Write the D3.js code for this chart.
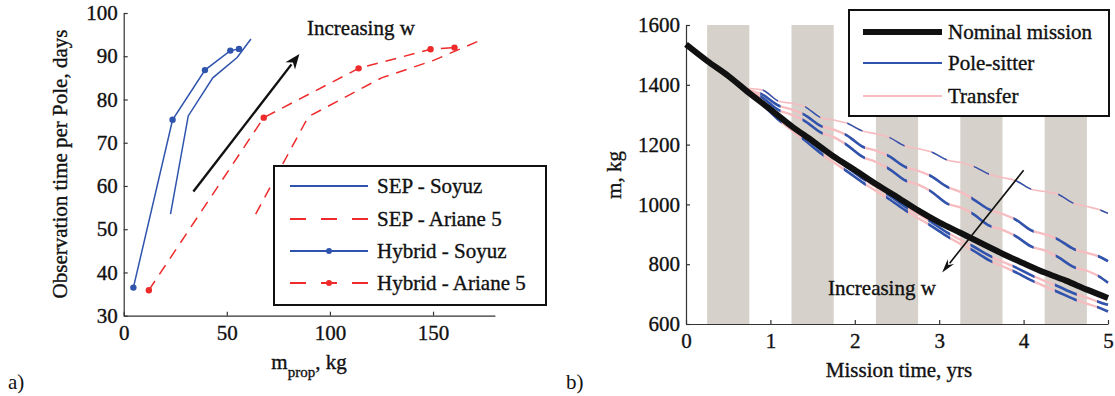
<!DOCTYPE html>
<html>
<head>
<meta charset="utf-8">
<script src="https://cdn.jsdelivr.net/npm/d3@7"></script>
<style>
  body { margin: 0; background: #fff; }
  svg { font-family: "Liberation Serif", "Times New Roman", serif; }
  svg text { stroke: #111; stroke-width: 0.35px; fill: #111; }
</style>
</head>
<body>
<svg id="fig" width="1115" height="396"></svg>
<script>
// ---- panel a) : observation time vs propellant mass
var sepSoyuzX  = [22.7, 31.3, 43.2, 55.0, 61.7];
var sepSoyuzY  = [53.5, 76.2, 85.0, 89.7, 94.0];
var hybSoyuzX  = [4.7, 23.7, 39.4, 51.7, 55.9];
var hybSoyuzY  = [36.5, 75.3, 86.8, 91.3, 91.7];
var sepArianeX = [64.0, 89.5, 125.0, 150.0, 172.0];
var sepArianeY = [53.5, 76.0, 85.0, 89.0, 93.5];
var hybArianeX = [12.2, 67.9, 113.9, 148.8, 160.4];
var hybArianeY = [35.9, 75.8, 87.2, 91.6, 92.0];
var aXTicks = [0, 50, 100, 150];
var aYTicks = [30, 40, 50, 60, 70, 80, 90, 100];

// ---- panel b) : spacecraft mass vs mission time
var nomT = [0, 0.25, 0.5, 0.75, 1, 1.25, 1.5, 1.75, 2, 2.25, 2.5, 2.75, 3, 3.25, 3.5, 3.75, 4, 4.25, 4.5, 4.75, 5];
var nomM = [1535, 1480, 1430, 1372, 1318, 1262, 1212, 1160, 1115, 1068, 1025, 980, 940, 905, 870, 835, 803, 772, 745, 715, 687];

var altT  = [0.7, 0.9, 1.1, 1.25, 1.4, 1.6, 1.75, 1.9, 2.1, 2.25, 2.4, 2.6, 2.75, 2.9, 3.1, 3.25, 3.4, 3.6, 3.75, 3.9, 4.1, 4.25, 4.4, 4.6, 4.75, 4.9, 5.0];
var alt1M = [1388, 1383, 1345, 1338, 1328, 1290, 1282, 1272, 1245, 1236, 1225, 1195, 1186, 1176, 1148, 1140, 1128, 1100, 1090, 1080, 1050, 1043, 1035, 1003, 993, 982, 970];
var alt2M = [1385, 1368, 1330, 1318, 1300, 1262, 1250, 1232, 1192, 1180, 1162, 1125, 1112, 1095, 1058, 1042, 1018, 982, 968, 950, 912, 900, 884, 850, 838, 825, 810];
var alt3M = [1383, 1358, 1315, 1300, 1280, 1240, 1225, 1200, 1158, 1142, 1120, 1080, 1066, 1044, 1002, 990, 968, 928, 915, 895, 858, 846, 825, 790, 778, 758, 738];
var alt4M = [1380, 1340, 1290, 1258, 1228, 1182, 1155, 1126, 1085, 1058, 1032, 992, 968, 942, 905, 882, 860, 828, 808, 790, 762, 744, 727, 702, 688, 673, 664];
var alt5M = [1380, 1335, 1282, 1248, 1216, 1170, 1140, 1112, 1072, 1045, 1019, 980, 954, 929, 892, 868, 846, 812, 793, 774, 745, 726, 708, 683, 668, 654, 642];
var poleCenters = [1, 1.5, 2, 2.5, 3, 3.5, 4, 4.5, 5];
var poleHalf = [0.09, 0.12, 0.12, 0.13, 0.13];
var bandStart = [0.25, 1.25, 2.25, 3.25, 4.25];
var bandEnd   = [0.75, 1.75, 2.75, 3.75, 4.75];
var bXTicks = [0, 1, 2, 3, 4, 5];
var bYTicks = [600, 800, 1000, 1200, 1400, 1600];

const blue = "#2f54ad";
const red = "#ee2a2a";
const pink = "#f6bcbf";
const FS = 21;

const svg = d3.select("#fig");

function styleAxis(g) {
  g.attr("font-family", null).attr("font-size", FS);
  g.select(".domain").attr("stroke", "#333").attr("stroke-width", 1.2);
  g.selectAll(".tick line").attr("stroke", "#333").attr("stroke-width", 1.2);
  g.selectAll(".tick text").attr("fill", "#111");
}

function arrow(g, x1, y1, x2, y2, sw, hl, hw) {
  var a = Math.atan2(y2 - y1, x2 - x1);
  var bx = x2 - hl * Math.cos(a), by = y2 - hl * Math.sin(a);
  g.append("line")
    .attr("x1", x1).attr("y1", y1).attr("x2", bx + 2 * Math.cos(a)).attr("y2", by + 2 * Math.sin(a))
    .attr("stroke", "#111").attr("stroke-width", sw);
  var px = -Math.sin(a) * hw / 2, py = Math.cos(a) * hw / 2;
  g.append("path")
    .attr("d", `M${x2},${y2}L${bx + px},${by + py}L${bx + 0.3 * hl * Math.cos(a)},${by + 0.3 * hl * Math.sin(a)}L${bx - px},${by - py}Z`)
    .attr("fill", "#111");
}

// ================= panel a =================
const xA = d3.scaleLinear().domain([0, 180]).range([123.7, 494.9]);
const yA = d3.scaleLinear().domain([30, 100]).range([315.7, 13]);
const gA = svg.append("g");

gA.append("g")
  .attr("transform", `translate(0,${yA(30)})`)
  .call(d3.axisBottom(xA).tickValues(aXTicks).tickFormat(d3.format("d")).tickSizeInner(-4).tickSizeOuter(0).tickPadding(9))
  .call(styleAxis);
gA.append("g")
  .attr("transform", `translate(${xA(0)},0)`)
  .call(d3.axisLeft(yA).tickValues(aYTicks).tickFormat(d3.format("d")).tickSizeInner(-4).tickSizeOuter(0).tickPadding(6))
  .call(styleAxis);

const lineA = d3.line().x(d => xA(d[0])).y(d => yA(d[1]));
const zip = (a, b) => a.map((v, i) => [v, b[i]]);

var seriesA = [
  { x: sepSoyuzX, y: sepSoyuzY, color: blue, dash: null, dots: false },
  { x: sepArianeX, y: sepArianeY, color: red, dash: "11,8", dots: false },
  { x: hybSoyuzX, y: hybSoyuzY, color: blue, dash: null, dots: true },
  { x: hybArianeX, y: hybArianeY, color: red, dash: "11,8", dots: true }
];
seriesA.forEach(function (s) {
  var pts = zip(s.x, s.y);
  gA.append("path").attr("d", lineA(pts))
    .attr("fill", "none").attr("stroke", s.color).attr("stroke-width", 1.5)
    .attr("stroke-dasharray", s.dash);
  if (s.dots) {
    gA.selectAll(null).data(pts).join("circle")
      .attr("cx", d => xA(d[0])).attr("cy", d => yA(d[1])).attr("r", 3.2)
      .attr("fill", s.color);
  }
});

arrow(gA, xA(33.8), yA(58.7), xA(85.2), yA(90.5), 2.4, 15, 12);
gA.append("text").attr("x", 307).attr("y", 35).attr("font-size", FS).text("Increasing w");

// legend a
const legA = gA.append("g");
legA.append("rect").attr("x", 274).attr("y", 166).attr("width", 272).attr("height", 139)
  .attr("fill", "#fff").attr("stroke", "#111").attr("stroke-width", 2);
var legAItems = ["SEP - Soyuz", "SEP - Ariane 5", "Hybrid - Soyuz", "Hybrid - Ariane 5"];
var legAY = [186, 219, 251, 283];
legAItems.forEach(function (lab, i) {
  var s = seriesA[i];
  legA.append("line").attr("x1", 290).attr("x2", 368).attr("y1", legAY[i]).attr("y2", legAY[i])
    .attr("stroke", s.color).attr("stroke-width", 1.8)
    .attr("stroke-dasharray", s.dash ? "16,15" : null);
  if (s.dots) legA.append("circle").attr("cx", 329).attr("cy", legAY[i]).attr("r", 3).attr("fill", s.color);
  legA.append("text").attr("x", 377).attr("y", legAY[i] + 7).attr("font-size", FS).text(lab);
});

// axis labels a
gA.append("text")
  .attr("transform", "translate(67,164) rotate(-90)")
  .attr("text-anchor", "middle").attr("font-size", FS)
  .text("Observation time per Pole, days");
const xlA = gA.append("text").attr("x", 309).attr("y", 369).attr("text-anchor", "middle").attr("font-size", FS);
xlA.append("tspan").text("m");
xlA.append("tspan").attr("dy", 8).attr("font-size", 15).text("prop");
xlA.append("tspan").attr("dy", -8).text(", kg");
svg.append("text").attr("x", 8).attr("y", 389).attr("font-size", FS).style("stroke-width", 0).text("a)");

// ================= panel b =================
const xB = d3.scaleLinear().domain([0, 5]).range([686, 1108]);
const yB = d3.scaleLinear().domain([600, 1600]).range([324, 25]);
const gB = svg.append("g");

gB.selectAll(null).data(bandStart).join("rect")
  .attr("x", d => xB(d)).attr("width", (d, i) => xB(bandEnd[i]) - xB(d))
  .attr("y", yB(1600)).attr("height", yB(600) - yB(1600))
  .attr("fill", "#d6d2cb");

gB.append("g")
  .attr("transform", `translate(0,${yB(600)})`)
  .call(d3.axisBottom(xB).tickValues(bXTicks).tickFormat(d3.format("d")).tickSizeInner(-4).tickSizeOuter(0).tickPadding(9))
  .call(styleAxis);
gB.append("g")
  .attr("transform", `translate(${xB(0)},0)`)
  .call(d3.axisLeft(yB).tickValues(bYTicks).tickFormat(d3.format("d")).tickSizeInner(-4).tickSizeOuter(0).tickPadding(6))
  .call(styleAxis);

const lineB = d3.line().x(d => xB(d[0])).y(d => yB(d[1])).curve(d3.curveMonotoneX);
const defs = svg.append("defs");

var alts = [alt1M, alt2M, alt3M, alt4M, alt5M];
var pinkW = [1.6, 2.3, 2.3, 2.3, 2.3];
var blueW = [1.5, 2.6, 2.6, 2.6, 2.6];
alts.forEach(function (m, k) {
  var pts = zip(altT, m);
  // transfer arcs (whole trajectory)
  gB.append("path").attr("d", lineB(pts)).attr("fill", "none")
    .attr("stroke", pink).attr("stroke-width", pinkW[k]);
  // pole-sitter phases: clip to windows around each pole season
  var cp = defs.append("clipPath").attr("id", "pole" + k);
  cp.selectAll("rect").data(poleCenters).join("rect")
    .attr("x", c => xB(c - poleHalf[k])).attr("width", xB(2 * poleHalf[k]) - xB(0))
    .attr("y", 0).attr("height", 396);
  gB.append("path").attr("d", lineB(pts)).attr("fill", "none")
    .attr("stroke", blue).attr("stroke-width", blueW[k])
    .attr("clip-path", `url(#pole${k})`);
});

gB.append("path").attr("d", lineB(zip(nomT, nomM))).attr("fill", "none")
  .attr("stroke", "#111").attr("stroke-width", 6).attr("stroke-linejoin", "round");

arrow(gB, xB(4.0), yB(1114), xB(3.035), yB(772), 1.6, 14, 8);
gB.append("text").attr("x", 828).attr("y", 295).attr("font-size", FS).text("Increasing w");

// legend b
const legB = gB.append("g");
legB.append("rect").attr("x", 849).attr("y", 10).attr("width", 260).attr("height", 106)
  .attr("fill", "#fff").attr("stroke", "#111").attr("stroke-width", 2);
var legBItems = ["Nominal mission", "Pole-sitter", "Transfer"];
var legBColor = ["#111", blue, pink];
var legBW = [6, 2, 2];
var legBY = [32, 63, 96];
legBItems.forEach(function (lab, i) {
  legB.append("line").attr("x1", 863).attr("x2", 942).attr("y1", legBY[i]).attr("y2", legBY[i])
    .attr("stroke", legBColor[i]).attr("stroke-width", legBW[i]);
  legB.append("text").attr("x", 948).attr("y", legBY[i] + 7).attr("font-size", FS).text(lab);
});

gB.append("text")
  .attr("transform", "translate(621,175) rotate(-90)")
  .attr("text-anchor", "middle").attr("font-size", FS)
  .text("m, kg");
gB.append("text").attr("x", 899).attr("y", 377).attr("text-anchor", "middle").attr("font-size", FS)
  .text("Mission time, yrs");
svg.append("text").attr("x", 566).attr("y", 389).attr("font-size", FS).style("stroke-width", 0).text("b)");
</script>
</body>
</html>
